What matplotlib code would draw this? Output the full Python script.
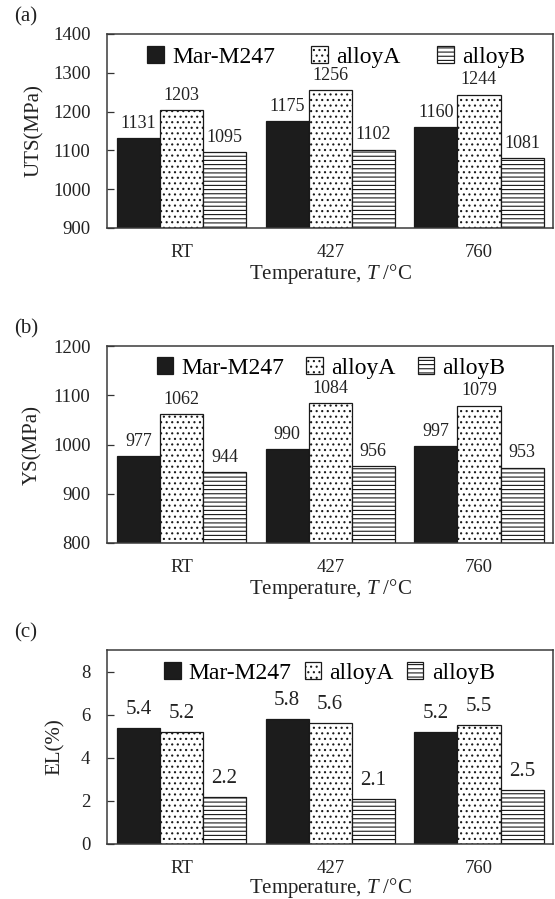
"""Tensile properties of Mar-M247, alloyA and alloyB at three temperatures."""
import matplotlib
matplotlib.use("Agg")
import matplotlib.pyplot as plt
import numpy as np

plt.rcParams['font.family'] = ['Liberation Serif', 'DejaVu Serif']
plt.rcParams['mathtext.fontset'] = 'custom'
plt.rcParams['mathtext.rm'] = 'Liberation Serif'
plt.rcParams['mathtext.it'] = 'Liberation Serif:italic'
plt.rcParams['hatch.linewidth'] = 0.8
plt.rcParams['hatch.color'] = '#1a1a1a'

temperatures = ['RT', '427', '760']
alloys = ['Mar-M247', 'alloyA', 'alloyB']

uts_mar = [1131, 1175, 1160]
uts_a = [1203, 1256, 1244]
uts_b = [1095, 1102, 1081]

ys_mar = [977, 990, 997]
ys_a = [1062, 1084, 1079]
ys_b = [944, 956, 953]

el_mar = [5.4, 5.8, 5.2]
el_a = [5.2, 5.6, 5.5]
el_b = [2.2, 2.1, 2.5]

styles = [dict(color='#1c1c1c', hatch=None),
          dict(color='white', hatch='...'),
          dict(color='white', hatch='----')]

fig = plt.figure(figsize=(5.55, 8.99), dpi=100)


def panel(rect, series, ylim, yticks, ylabel, tag, fmt, label_size,
          label_off, ylab_x, leg_x, leg_y, colspace, xlabpad=1):
    ax = fig.add_axes(rect)
    x = np.arange(len(temperatures))
    width = 0.29
    for i, (vals, st) in enumerate(zip(series, styles)):
        base = ylim[0]
        heights = np.array(vals) - base
        bars = ax.bar(x + (i - 1) * width, heights, width, bottom=base,
                      color=st['color'], hatch=st['hatch'],
                      edgecolor='#1a1a1a', linewidth=0.9, label=alloys[i])
        for b, v in zip(bars, vals):
            ax.annotate(fmt.format(v), (b.get_x() + b.get_width() / 2, v),
                        xytext=(0, label_off), textcoords='offset points',
                        ha='center', va='bottom', fontsize=label_size,
                        color='#222222')
    ax.set_xlim(-0.5, 2.5)
    ax.set_ylim(*ylim)
    ax.set_yticks(yticks)
    ax.set_xticks(x)
    ax.set_xticklabels(temperatures)
    ax.tick_params(axis='y', direction='in', length=5, width=0.9,
                   labelsize=13.5, pad=12, colors='#333333',
                   labelcolor='#222222')
    ax.tick_params(axis='x', length=0, labelsize=13.5, pad=11.5,
                   labelcolor='#222222')
    for s in ax.spines.values():
        s.set_color('#3a3a3a')
        s.set_linewidth(1.1)
    ax.set_ylabel(ylabel, fontsize=15, color='#222222')
    ax.yaxis.set_label_coords(ylab_x, 0.5)
    ax.set_xlabel('Temperature, $T$ /°C', fontsize=15, labelpad=xlabpad,
                  color='#222222')
    ax.legend(loc='center', bbox_to_anchor=(leg_x, leg_y), ncol=3,
              frameon=False, fontsize=17, handlelength=0.7,
              handleheight=0.7, handletextpad=0.35,
              columnspacing=colspace, borderaxespad=0, borderpad=0)
    fig.text(0.025, rect[1] + rect[3] + 0.019, tag, fontsize=15,
             color='#222222', va='center')
    return ax


panel([0.193, 0.7464, 0.804, 0.2158], [uts_mar, uts_a, uts_b],
      (900, 1400), [900, 1000, 1100, 1200, 1300, 1400], 'UTS(MPa)', '(a)',
      '{:d}', 13, 4.5, -0.141, 0.513, 0.88, 1.55)
panel([0.193, 0.396, 0.804, 0.2191], [ys_mar, ys_a, ys_b],
      (800, 1200), [800, 900, 1000, 1100, 1200], 'YS(MPa)', '(b)',
      '{:d}', 13, 4.5, -0.146, 0.502, 0.888, 0.93)
panel([0.193, 0.0612, 0.804, 0.2158], [el_mar, el_a, el_b],
      (0, 9), [0, 2, 4, 6, 8], 'EL(%)', '(c)',
      '{:.1f}', 15, 6.5, -0.094, 0.498, 0.881, 0.55, xlabpad=-1)

plt.savefig('out.png', dpi=100)
